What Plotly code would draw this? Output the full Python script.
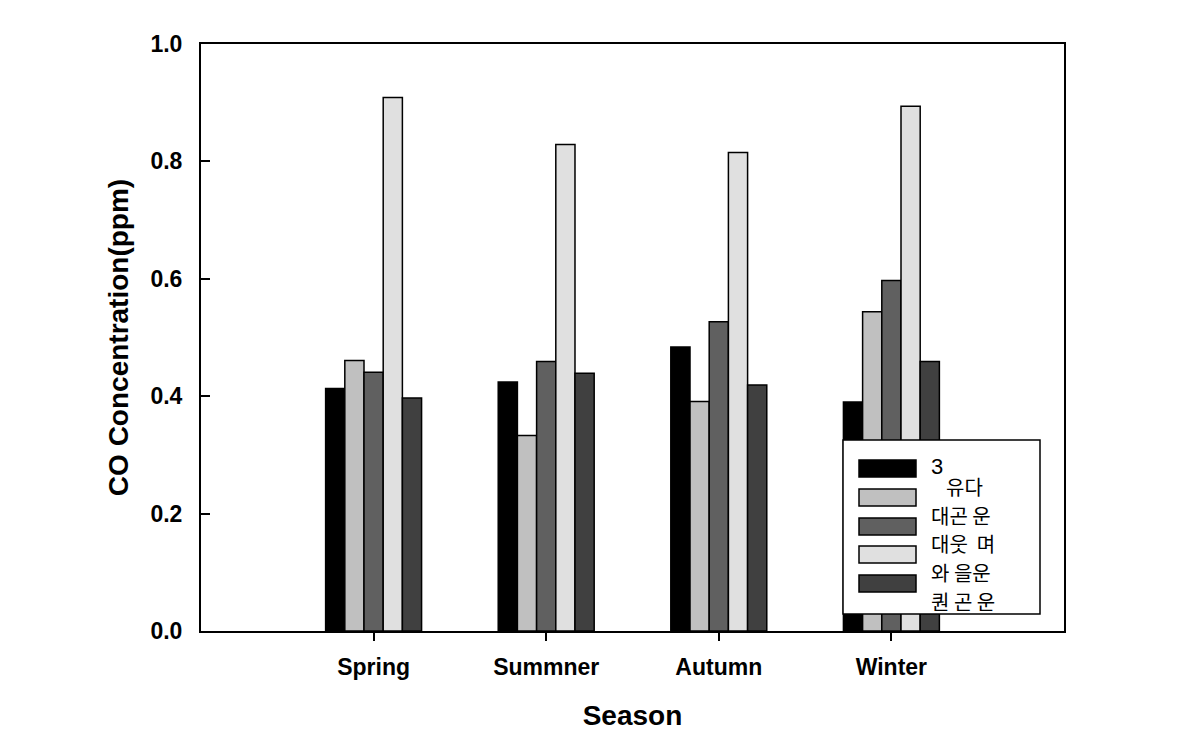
import plotly.graph_objects as go

seasons = ["Spring", "Summner", "Autumn", "Winter"]
series_names = ["3", "대곤 운", "대웃 며", "와 을운", "퀀 곤 운"]
legend_lines = ["3", "유다", "대곤 운", "대웃  며", "와 을운", "퀀 곤 운"]
s1 = [0.413, 0.424, 0.484, 0.390]
s2 = [0.461, 0.333, 0.391, 0.544]
s3 = [0.441, 0.459, 0.527, 0.597]
s4 = [0.909, 0.829, 0.815, 0.894]
s5 = [0.397, 0.439, 0.419, 0.459]
series_values = [s1, s2, s3, s4, s5]
colors = ["#000000", "#c0c0c0", "#606060", "#e0e0e0", "#404040"]
y_ticks = [0.0, 0.2, 0.4, 0.6, 0.8, 1.0]

# page has 8px body margin; compensate
OFF = 8
W, H = 1201 - OFF, 751 - OFF
L, R, T, B = 201, 1064, 44, 631  # target plot area in page pixels

fig = go.Figure()
for name, vals, col in zip(series_names, series_values, colors):
    fig.add_trace(go.Bar(
        x=list(range(len(seasons))), y=vals, name=name,
        marker=dict(color=col, line=dict(color="#000000", width=1.5)),
        showlegend=False,
    ))

def px_x(x):
    return (x - L) / (R - L)

def px_y(y):
    return (B - y) / (B - T)

shapes = []
annotations = []
# legend box
shapes.append(dict(type="rect", xref="paper", yref="paper",
                   x0=px_x(843), x1=px_x(1040), y0=px_y(614), y1=px_y(440),
                   line=dict(color="#000000", width=1.5), fillcolor="#ffffff", layer="above"))
sw_y = [460, 489, 518, 546, 575]
for col, yy in zip(colors, sw_y):
    shapes.append(dict(type="rect", xref="paper", yref="paper",
                       x0=px_x(859), x1=px_x(916), y0=px_y(yy + 17), y1=px_y(yy),
                       line=dict(color="#000000", width=1.5), fillcolor=col, layer="above"))
txt_pos = [(929, 466), (944, 486), (929, 515), (929, 543), (929, 572), (929, 601)]
for i, (t, (xx, yy)) in enumerate(zip(legend_lines, txt_pos)):
    fam = "Liberation Sans" if i == 0 else "Noto Sans CJK KR"
    size = 22 if i == 0 else 20
    annotations.append(dict(xref="paper", yref="paper", x=px_x(xx), y=px_y(yy),
                            text=t, showarrow=False, xanchor="left", yanchor="middle",
                            font=dict(family=fam, size=size, color="#000000")))

fig.update_layout(
    width=W, height=H,
    margin=dict(l=L - OFF, r=W + OFF - R, t=T - OFF, b=H + OFF - B, pad=0),
    paper_bgcolor="#ffffff", plot_bgcolor="#ffffff",
    barmode="group", bargap=0.444, bargroupgap=0,
    font=dict(family="Liberation Sans, Arial", color="#000000"),
    shapes=shapes, annotations=annotations,
    xaxis=dict(
        range=[-1, 4], tickmode="array", tickvals=list(range(len(seasons))), ticktext=seasons,
        ticks="outside", ticklen=8, tickwidth=2, tickcolor="#000000",
        showline=True, linecolor="#000000", linewidth=2, mirror=True,
        showgrid=False, zeroline=False, ticklabelstandoff=6,
        tickfont=dict(size=23, family="Liberation Sans", color="#000000", weight="bold"),
        title=dict(text="<b>Season</b>", font=dict(size=28, family="Liberation Sans"), standoff=27),
    ),
    yaxis=dict(
        range=[0, 1.0], tickmode="array", tickvals=y_ticks,
        ticktext=[f"{v:.1f}" for v in y_ticks],
        ticks="inside", ticklen=9, tickwidth=2, tickcolor="#000000",
        showline=True, linecolor="#000000", linewidth=2, mirror=True,
        showgrid=False, zeroline=False, ticklabelstandoff=12,
        tickfont=dict(size=23, family="Liberation Sans", color="#000000", weight="bold"),
        title=dict(text="<b>CO Concentration(ppm)</b>", font=dict(size=28, family="Liberation Sans"), standoff=14),
    ),
)

fig.write_html("out.html")
